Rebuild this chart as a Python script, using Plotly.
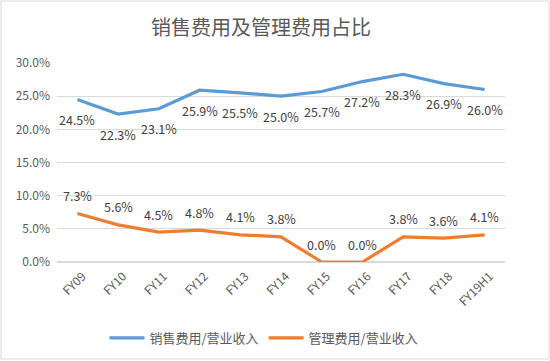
import plotly.graph_objects as go

categories = ["FY09", "FY10", "FY11", "FY12", "FY13", "FY14", "FY15", "FY16", "FY17", "FY18", "FY19H1"]
sales_ratio = [24.5, 22.3, 23.1, 25.9, 25.5, 25.0, 25.7, 27.2, 28.3, 26.9, 26.0]
admin_ratio = [7.3, 5.6, 4.5, 4.8, 4.1, 3.8, 0.0, 0.0, 3.8, 3.6, 4.1]
y_ticks = [0, 5, 10, 15, 20, 25, 30]
y_tick_text = ["0.0%", "5.0%", "10.0%", "15.0%", "20.0%", "25.0%", "30.0%"]
series_names = ["销售费用/营业收入", "管理费用/营业收入"]
title_text = "销售费用及管理费用占比"

W, H = 550, 361
L, R, T, B = 57, 45, 63, 99

font_family = "Microsoft YaHei, Noto Sans CJK SC, sans-serif"

fig = go.Figure()
fig.add_trace(go.Scatter(
    x=categories, y=sales_ratio, name=series_names[0],
    mode="lines",
    line=dict(color="#5B9BD5", width=3.2),
))
fig.add_trace(go.Scatter(
    x=categories, y=admin_ratio, name=series_names[1],
    mode="lines",
    line=dict(color="#ED7D31", width=3.2),
))

annotations = []
for c, v in zip(categories, sales_ratio):
    annotations.append(dict(x=c, y=v, xref="x", yref="y", text=f"{v:.1f}%",
                            showarrow=False, yshift=-20,
                            font=dict(size=12.5, color="#404040")))
for c, v in zip(categories, admin_ratio):
    annotations.append(dict(x=c, y=v, xref="x", yref="y", text=f"{v:.1f}%",
                            showarrow=False, yshift=18,
                            font=dict(size=12.5, color="#404040")))

fig.update_layout(
    width=W, height=H,
    margin=dict(l=L, r=R, t=T, b=B),
    paper_bgcolor="white", plot_bgcolor="white",
    font=dict(family=font_family, color="#595959"),
    title=dict(text=title_text, x=261 / W, xref="container", y=1 - 28 / H, yref="container",
               xanchor="center", yanchor="middle",
               font=dict(size=20, color="#595959")),
    showlegend=True,
    legend=dict(orientation="h", x=264 / W, xanchor="center", xref="container",
                y=1 - 338 / H, yref="container", yanchor="middle",
                font=dict(size=13, color="#595959"),
                itemwidth=35, tracegroupgap=0),
    xaxis=dict(type="category", range=[-0.5, 10.5], tickangle=-45,
               showgrid=False, showline=False, ticks="", automargin=False,
               ticklabelshift=5, ticklabelstandoff=4,
               tickfont=dict(size=12, color="#595959")),
    yaxis=dict(range=[0, 30], tickvals=y_ticks, ticktext=y_tick_text,
               showgrid=True, gridcolor="#D9D9D9", gridwidth=1, automargin=False,
               zeroline=True, zerolinecolor="#D9D9D9", showline=False,
               ticks="", ticklabelstandoff=6, tickfont=dict(size=12, color="#595959")),
    annotations=annotations,
    shapes=[dict(type="rect", xref="paper", yref="paper",
                 x0=-(L - 1) / (W - L - R), x1=1 + (R - 1) / (W - L - R),
                 y0=-(B - 2) / (H - T - B), y1=1 + (T - 1) / (H - T - B),
                 line=dict(color="#D9D9D9", width=1))],
)

fig.write_html("out.html", config={"displayModeBar": False},
               post_script="document.body.style.margin='0px';")
